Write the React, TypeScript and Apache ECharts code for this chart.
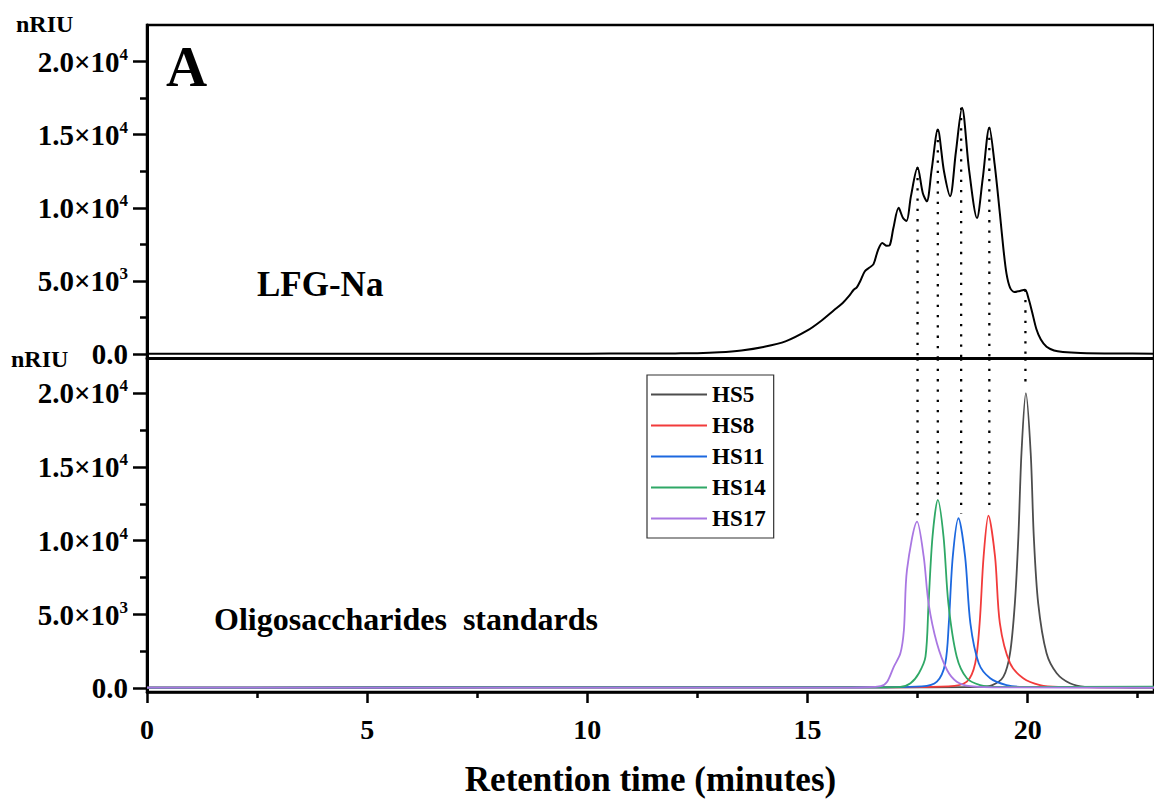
import React, { useEffect, useRef } from "react";
import * as echarts from "echarts";

const FONT = '"Liberation Serif", "Times New Roman", serif';

const X_MAX = 22.87;
const X_MAJOR = [0, 5, 10, 15, 20];
const X_MINOR = [2.5, 7.5, 12.5, 17.5, 22.5];
const Y_MAJOR = [0, 5000, 10000, 15000, 20000];
const Y_MINOR = [2500, 7500, 12500, 17500];

// LFG-Na chromatogram (top panel): [minutes, nRIU]
const lfgNa: [number, number][] = [
  [0, 20], [5, 20], [10, 30], [11, 40], [12, 50], [12.5, 60], [13, 120], [13.5, 250],
  [14, 490], [14.5, 870], [15, 1620], [15.3, 2250], [15.6, 3000], [15.8, 3500],
  [15.95, 4000], [16.05, 4400], [16.12, 4560], [16.2, 5000], [16.3, 5650], [16.4, 5900],
  [16.5, 6150], [16.6, 7100], [16.7, 7600], [16.8, 7400], [16.87, 7450], [16.95, 8600],
  [17.07, 10000], [17.17, 9300], [17.25, 9100], [17.35, 10800], [17.5, 12750],
  [17.62, 11000], [17.71, 10450], [17.82, 12600], [17.96, 15350], [18.1, 12500],
  [18.24, 10800], [18.37, 13800], [18.51, 16850], [18.67, 12600], [18.85, 9300],
  [18.98, 12000], [19.13, 15500], [19.25, 13000], [19.37, 9600], [19.45, 7200],
  [19.52, 5500], [19.6, 4550], [19.7, 4250], [19.8, 4300], [19.94, 4400], [20.02, 3800],
  [20.1, 2900], [20.2, 1700], [20.3, 1000], [20.43, 500], [20.6, 250], [20.8, 150],
  [21.2, 80], [22, 40], [22.87, 30],
];

// Oligosaccharide standards (bottom panel)
const hs5: [number, number][] = [
  [0, 40], [10, 60], [16, 60], [18.9, 100], [19.2, 220], [19.45, 790], [19.6, 2370],
  [19.71, 5760], [19.79, 10280], [19.86, 15930], [19.96, 20000], [20.07, 15930],
  [20.14, 10280], [20.24, 5760], [20.43, 2370], [20.66, 1020], [20.96, 340], [21.3, 100],
  [22, 60], [22.87, 50],
];
const hs8: [number, number][] = [
  [0, 40], [10, 60], [16, 60], [18.2, 130], [18.62, 450], [18.81, 1700], [18.91, 4400],
  [19.0, 8920], [19.11, 11700], [19.26, 8920], [19.37, 4400], [19.6, 1700], [19.9, 680],
  [20.28, 220], [20.7, 100], [22.87, 60],
];
const hs11: [number, number][] = [
  [0, 40], [10, 60], [16, 60], [17.6, 130], [17.94, 450], [18.13, 1700], [18.21, 4400],
  [18.3, 8920], [18.43, 11525], [18.58, 8920], [18.7, 4400], [18.89, 1700], [19.15, 680],
  [19.52, 220], [19.9, 100], [22.87, 70],
];
const hs14: [number, number][] = [
  [0, 40], [10, 70], [16, 60], [17.11, 100], [17.34, 340], [17.53, 1020], [17.68, 2140],
  [17.75, 5760], [17.84, 10280], [17.96, 12770], [18.09, 10280], [18.2, 5760],
  [18.39, 2140], [18.62, 680], [18.92, 220], [19.3, 100], [22.87, 110],
];
const hs17: [number, number][] = [
  [0, 40], [10, 50], [16, 50], [16.66, 150], [16.81, 450], [16.96, 1460], [17.11, 2370],
  [17.19, 3950], [17.26, 8020], [17.49, 11295], [17.64, 8920], [17.75, 5760],
  [17.94, 3050], [18.17, 1240], [18.39, 450], [18.7, 150], [19.5, 60], [22.87, 40],
];

const standardNames = ["HS5", "HS8", "HS11", "HS14", "HS17"];
const standardData = [hs5, hs8, hs11, hs14, hs17];
const standardColors = ["#4d4d4d", "#f23b3b", "#1c68df", "#2fa866", "#a977e2"];

// Dotted guide lines linking the peaks
const dropX = [17.5, 17.96, 18.49, 19.13, 19.95];
const dropTopPeak = [12750, 15350, 16850, 15500, 4400];
const dropBottomPeak = [11600, 13100, 11850, 12000, 20300];

const TOP_MIN = -300;
const TOP_MAX = 22500;
const BOT_MIN = -250;
const BOT_MAX = 22350;

function yLabel(v: number): string {
  if (v === 0) return "{b|0.0}";
  const exp = Math.floor(Math.log10(v) + 1e-9);
  const m = (v / Math.pow(10, exp)).toFixed(1);
  return `{b|${m}×10}{s|${exp}}`;
}

const labelRich = {
  b: { fontFamily: FONT, fontWeight: "bold", fontSize: 29, lineHeight: 32, color: "#000" },
  s: { fontFamily: FONT, fontWeight: "bold", fontSize: 17, lineHeight: 17, verticalAlign: "top", color: "#000" },
};

function majorY(gridIndex: number, min: number, max: number) {
  return {
    type: "value",
    gridIndex,
    min,
    max,
    position: "left",
    axisLine: { show: true, onZero: false, lineStyle: { color: "#000", width: 3 } },
    axisTick: { show: true, customValues: Y_MAJOR, length: 14, lineStyle: { color: "#000", width: 2.5 } },
    axisLabel: { show: true, customValues: Y_MAJOR, formatter: yLabel, rich: labelRich, margin: 19 },
    splitLine: { show: false },
  };
}
function minorY(gridIndex: number, min: number, max: number) {
  return {
    type: "value",
    gridIndex,
    min,
    max,
    position: "left",
    axisLine: { show: false, onZero: false },
    axisTick: { show: true, customValues: Y_MINOR, length: 7, lineStyle: { color: "#000", width: 2.5 } },
    axisLabel: { show: false },
    splitLine: { show: false },
  };
}

export default function App() {
  const ref = useRef<HTMLDivElement>(null);
  useEffect(() => {
    if (!ref.current) return;
    const chart = echarts.init(ref.current, null, { renderer: "svg" });
    const dotted = { color: "#000", width: 2.3, type: [2.3, 8] as number[] };
    const series: any[] = [
      {
        name: "LFG-Na",
        type: "line",
        xAxisIndex: 0,
        yAxisIndex: 0,
        data: lfgNa,
        smooth: 0.3,
        symbol: "none",
        lineStyle: { color: "#000", width: 2 },
        z: 3,
      },
    ];
    standardNames.forEach((n, i) => {
      series.push({
        name: n,
        type: "line",
        xAxisIndex: 1,
        yAxisIndex: 2,
        data: standardData[i],
        smooth: 0.3,
        symbol: "none",
        color: standardColors[i],
        lineStyle: { color: standardColors[i], width: 1.8 },
        z: 3 + i,
      });
    });
    dropX.forEach((x, i) => {
      series.push({
        type: "line",
        xAxisIndex: 0,
        yAxisIndex: 0,
        data: [[x, dropTopPeak[i]], [x, TOP_MIN]],
        symbol: "none",
        lineStyle: dotted,
        z: 2,
        silent: true,
      });
      series.push({
        type: "line",
        xAxisIndex: 1,
        yAxisIndex: 2,
        data: [[x, BOT_MAX], [x, dropBottomPeak[i]]],
        symbol: "none",
        lineStyle: dotted,
        z: 2,
        silent: true,
      });
    });

    chart.setOption({
      animation: false,
      backgroundColor: "#fff",
      textStyle: { fontFamily: FONT },
      grid: [
        { left: 147, right: -4, top: 25, height: 333.5, show: true, borderColor: "#000", borderWidth: 2.5, backgroundColor: "transparent" },
        { left: 147, right: -4, top: 358.5, height: 333.5, show: true, borderColor: "#000", borderWidth: 2.5, backgroundColor: "transparent" },
      ],
      xAxis: [
        {
          type: "value",
          gridIndex: 0,
          position: "bottom",
          min: 0,
          max: X_MAX,
          axisLine: { show: true, onZero: false, lineStyle: { color: "#000", width: 2.5 } },
          axisTick: { show: false },
          axisLabel: { show: false },
          splitLine: { show: false },
        },
        {
          type: "value",
          gridIndex: 1,
          position: "bottom",
          min: 0,
          max: X_MAX,
          axisLine: { show: true, onZero: false, lineStyle: { color: "#000", width: 2.5 } },
          axisTick: { show: true, customValues: X_MAJOR, length: 11, lineStyle: { color: "#000", width: 2.5 } },
          axisLabel: {
            show: true,
            customValues: X_MAJOR,
            fontFamily: FONT,
            fontWeight: "bold",
            fontSize: 28,
            color: "#000",
            margin: 23,
          },
          splitLine: { show: false },
          name: "Retention time (minutes)",
          nameLocation: "middle",
          nameGap: 70,
          nameTextStyle: { fontFamily: FONT, fontWeight: "bold", fontSize: 35, color: "#000" },
        },
        {
          type: "value",
          gridIndex: 1,
          position: "bottom",
          min: 0,
          max: X_MAX,
          axisLine: { show: false, onZero: false },
          axisTick: { show: true, customValues: X_MINOR, length: 6, lineStyle: { color: "#000", width: 2.5 } },
          axisLabel: { show: false },
          splitLine: { show: false },
        },
      ],
      yAxis: [
        majorY(0, TOP_MIN, TOP_MAX),
        minorY(0, TOP_MIN, TOP_MAX),
        majorY(1, BOT_MIN, BOT_MAX),
        minorY(1, BOT_MIN, BOT_MAX),
      ],
      legend: {
        data: standardNames,
        orient: "vertical",
        left: 647,
        top: 375,
        icon: "rect",
        itemWidth: 56,
        itemHeight: 2,
        itemGap: 8,
        padding: [8, 8, 8, 4],
        borderColor: "#333",
        borderWidth: 1.2,
        backgroundColor: "#fff",
        textStyle: { fontFamily: FONT, fontWeight: "bold", fontSize: 23, lineHeight: 23, color: "#000" },
      },
      graphic: [
        { type: "text", left: 166, top: 38, style: { text: "A", font: `bold 57px ${FONT}`, fill: "#000" } },
        { type: "text", left: 257, top: 267, style: { text: "LFG-Na", font: `bold 35px ${FONT}`, fill: "#000" } },
        { type: "text", left: 214, top: 603, style: { text: "Oligosaccharides  standards", font: `bold 32px ${FONT}`, fill: "#000" } },
        { type: "text", left: 16, top: 12, style: { text: "nRIU", font: `bold 24px ${FONT}`, fill: "#000" } },
        { type: "text", left: 11, top: 347, style: { text: "nRIU", font: `bold 24px ${FONT}`, fill: "#000" } },
      ],
      series,
    });
    return () => chart.dispose();
  }, []);
  return (
    <div
      ref={ref}
      style={{ position: "fixed", left: 0, top: 0, width: 1154, height: 800, background: "#fff" }}
    />
  );
}
